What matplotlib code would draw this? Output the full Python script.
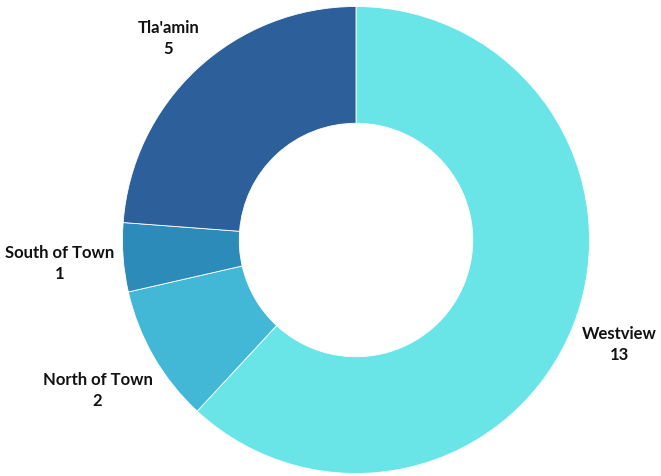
import numpy as np
import matplotlib.pyplot as plt

# Datos del gráfico
labels = ["Westview", "North of Town", "South of Town", "Tla'amin"]
values = [13, 2, 1, 5]
colors = ["#69E5E8", "#42B8D6", "#2D8BBA", "#2D5F9A"]

W, H = 661, 477
cx, cy, R = 356, 241, 233.5  # centro y radio en pixeles
gap = 8  # separación (px) entre el anillo y la etiqueta

fig = plt.figure(figsize=(W / 100, H / 100), dpi=100)
ax = fig.add_axes([0, 0, 1, 1])

wedges, _ = ax.pie(values, colors=colors, startangle=90, counterclock=False,
                   radius=1, wedgeprops=dict(width=0.5, edgecolor="white", linewidth=0.6))

ax.set_xlim(-cx / R, (W - cx) / R)
ax.set_ylim(-(H - cy) / R, cy / R)
ax.set_aspect("auto")
ax.axis("off")

# Etiquetas: centradas en el ángulo medio, a una distancia que depende del tamaño del texto
renderer = fig.canvas.get_renderer()
total = sum(values)
start = 90.0
for lab, val in zip(labels, values):
    span = val / total * 360
    mid = np.deg2rad(start - span / 2)
    start -= span
    t = ax.text(0, 0, f"{lab}\n{val}", ha="center", va="center", multialignment="center",
                fontsize=12, fontweight="bold", family="Lato", linespacing=1.4, color="#111111")
    bb = t.get_window_extent(renderer)
    hw, hh = bb.width / 2, bb.height / 2
    dist = R + gap + hw * abs(np.cos(mid)) + hh * abs(np.sin(mid))
    t.set_position((dist / R * np.cos(mid), dist / R * np.sin(mid)))

fig.savefig("out.png", dpi=100)
